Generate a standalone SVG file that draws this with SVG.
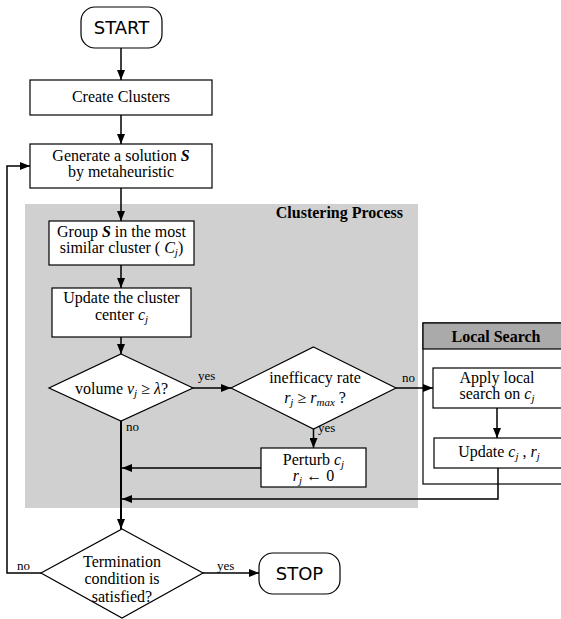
<svg xmlns="http://www.w3.org/2000/svg" width="561" height="619" viewBox="0 0 561 619">
<defs>
<marker id="arr" markerUnits="userSpaceOnUse" markerWidth="10" markerHeight="8" refX="10" refY="4" orient="auto">
<path d="M0,0 L10,4 L0,8 z" fill="#000"/>
</marker>
</defs>
<style>
.box{fill:#fff;stroke:#000;stroke-width:1.2}
.term{fill:#fff;stroke:#000;stroke-width:1.2}
.t{font-family:"Liberation Serif","Times New Roman",serif;font-size:16px;fill:#000;text-anchor:middle}
.lbl{font-family:"Liberation Serif","Times New Roman",serif;font-size:13px;fill:#000}
.s{font-family:"DejaVu Sans",Verdana,sans-serif;font-size:18px;fill:#000;text-anchor:middle}
.b{font-family:"Liberation Serif","Times New Roman",serif;font-size:16px;font-weight:bold;fill:#000}
.i{font-style:italic}
.sub{font-style:italic;font-size:11px}
.c{fill:none;stroke:#000;stroke-width:1.5}
</style>
<rect x="25" y="204" width="393" height="304" fill="#d0d0d0"/>
<g id="clustering-label"><text class="b" x="403" y="218" text-anchor="end">Clustering Process</text></g>
<g id="local-search">
<rect x="423" y="323" width="145" height="161" fill="#fff" stroke="#000" stroke-width="1.2"/>
<rect x="423" y="323" width="145" height="26" fill="#aaaaaa" stroke="#000" stroke-width="1.2"/>
<text class="b" x="496" y="342" text-anchor="middle">Local Search</text>
</g>
<g id="connectors">
<line class="c" x1="121" y1="48" x2="121" y2="80" marker-end="url(#arr)"/>
<line class="c" x1="121" y1="115" x2="121" y2="144" marker-end="url(#arr)"/>
<line class="c" x1="121" y1="188" x2="121" y2="221" marker-end="url(#arr)"/>
<line class="c" x1="121" y1="265" x2="121" y2="288" marker-end="url(#arr)"/>
<line class="c" x1="121" y1="337" x2="121" y2="354" marker-end="url(#arr)"/>
<line class="c" x1="193" y1="388" x2="231" y2="388" marker-end="url(#arr)"/>
<line class="c" x1="396" y1="388" x2="433" y2="388" marker-end="url(#arr)"/>
<line class="c" x1="313.5" y1="429" x2="313.5" y2="448" marker-end="url(#arr)"/>
<line class="c" x1="497" y1="408" x2="497" y2="438" marker-end="url(#arr)"/>
<line class="c" x1="261" y1="468" x2="122" y2="468" marker-end="url(#arr)"/>
<polyline class="c" points="498,468 498,499 122,499" marker-end="url(#arr)"/>
<line x1="121" y1="421" x2="121" y2="529" stroke="#000" stroke-width="2" marker-end="url(#arr)"/>
<line class="c" x1="203" y1="573" x2="259" y2="573" marker-end="url(#arr)"/>
<polyline class="c" points="41,573 7,573 7,166 30,166" marker-end="url(#arr)"/>
<text class="lbl" x="198" y="380">yes</text>
<text class="lbl" x="126" y="431">no</text>
<text class="lbl" x="402" y="382">no</text>
<text class="lbl" x="318" y="432">yes</text>
<text class="lbl" x="17" y="570">no</text>
<text class="lbl" x="217" y="570">yes</text>
</g>
<g id="start">
<rect class="term" x="81" y="7" width="81" height="41" rx="14"/>
<text class="s" x="121.5" y="34">START</text>
</g>
<g id="create-clusters">
<rect class="box" x="30" y="80" width="182" height="35"/>
<text class="t" x="121" y="102">Create Clusters</text>
</g>
<g id="generate">
<rect class="box" x="30" y="144" width="182" height="44"/>
<text class="t" x="121" y="161">Generate a solution <tspan font-weight="bold" font-style="italic">S</tspan></text>
<text class="t" x="121" y="177">by metaheuristic</text>
</g>
<g id="group">
<rect class="box" x="49" y="221" width="145" height="44"/>
<text class="t" x="121.5" y="237">Group <tspan font-weight="bold" font-style="italic">S</tspan> in the most</text>
<text class="t" x="121.5" y="253">similar cluster ( <tspan class="i">C</tspan><tspan class="sub" dy="3">j</tspan><tspan dy="-3">)</tspan></text>
</g>
<g id="update-center">
<rect class="box" x="52" y="288" width="139" height="49"/>
<text class="t" x="121.5" y="303">Update the cluster</text>
<text class="t" x="121.5" y="320">center <tspan class="i">c</tspan><tspan class="sub" dy="3">j</tspan></text>
</g>
<g id="volume">
<polygon class="box" points="121,354 193,388 121,421 49,388"/>
<text class="t" x="121.5" y="394">volume <tspan class="i">v</tspan><tspan class="sub" dy="3">j</tspan><tspan dy="-3"> ≥ </tspan><tspan class="i">λ</tspan>?</text>
</g>
<g id="inefficacy">
<polygon class="box" points="313.5,347 396,388 313.5,429 231,388"/>
<text class="t" x="315" y="383">inefficacy rate</text>
<text class="t" x="315" y="403"><tspan class="i">r</tspan><tspan class="sub" dy="3">j</tspan><tspan dy="-3"> ≥ </tspan><tspan class="i">r</tspan><tspan class="sub" dy="3">max</tspan><tspan dy="-3"> ?</tspan></text>
</g>
<g id="perturb">
<rect class="box" x="261" y="448" width="105" height="39"/>
<text class="t" x="313.5" y="465">Perturb <tspan class="i">c</tspan><tspan class="sub" dy="3">j</tspan></text>
<text class="t" x="313.5" y="481"><tspan class="i">r</tspan><tspan class="sub" dy="3">j</tspan><tspan dy="-3"> ← 0</tspan></text>
</g>
<g id="apply-local">
<rect class="box" x="433" y="368" width="130" height="40"/>
<text class="t" x="497" y="383">Apply local</text>
<text class="t" x="497" y="399">search on <tspan class="i">c</tspan><tspan class="sub" dy="3">j</tspan></text>
</g>
<g id="update-cr">
<rect class="box" x="434" y="438" width="129" height="30"/>
<text class="t" x="499" y="457">Update <tspan class="i">c</tspan><tspan class="sub" dy="3">j</tspan><tspan dy="-3"> , </tspan><tspan class="i">r</tspan><tspan class="sub" dy="3">j</tspan></text>
</g>
<g id="termination">
<polygon class="box" points="122,529 203,573 122,618 41,573"/>
<text class="t" x="122" y="567">Termination</text>
<text class="t" x="122" y="584">condition is</text>
<text class="t" x="122" y="602">satisfied?</text>
</g>
<g id="stop">
<rect class="term" x="259" y="553" width="81" height="41" rx="14"/>
<text class="s" x="299.5" y="580">STOP</text>
</g>
</svg>
